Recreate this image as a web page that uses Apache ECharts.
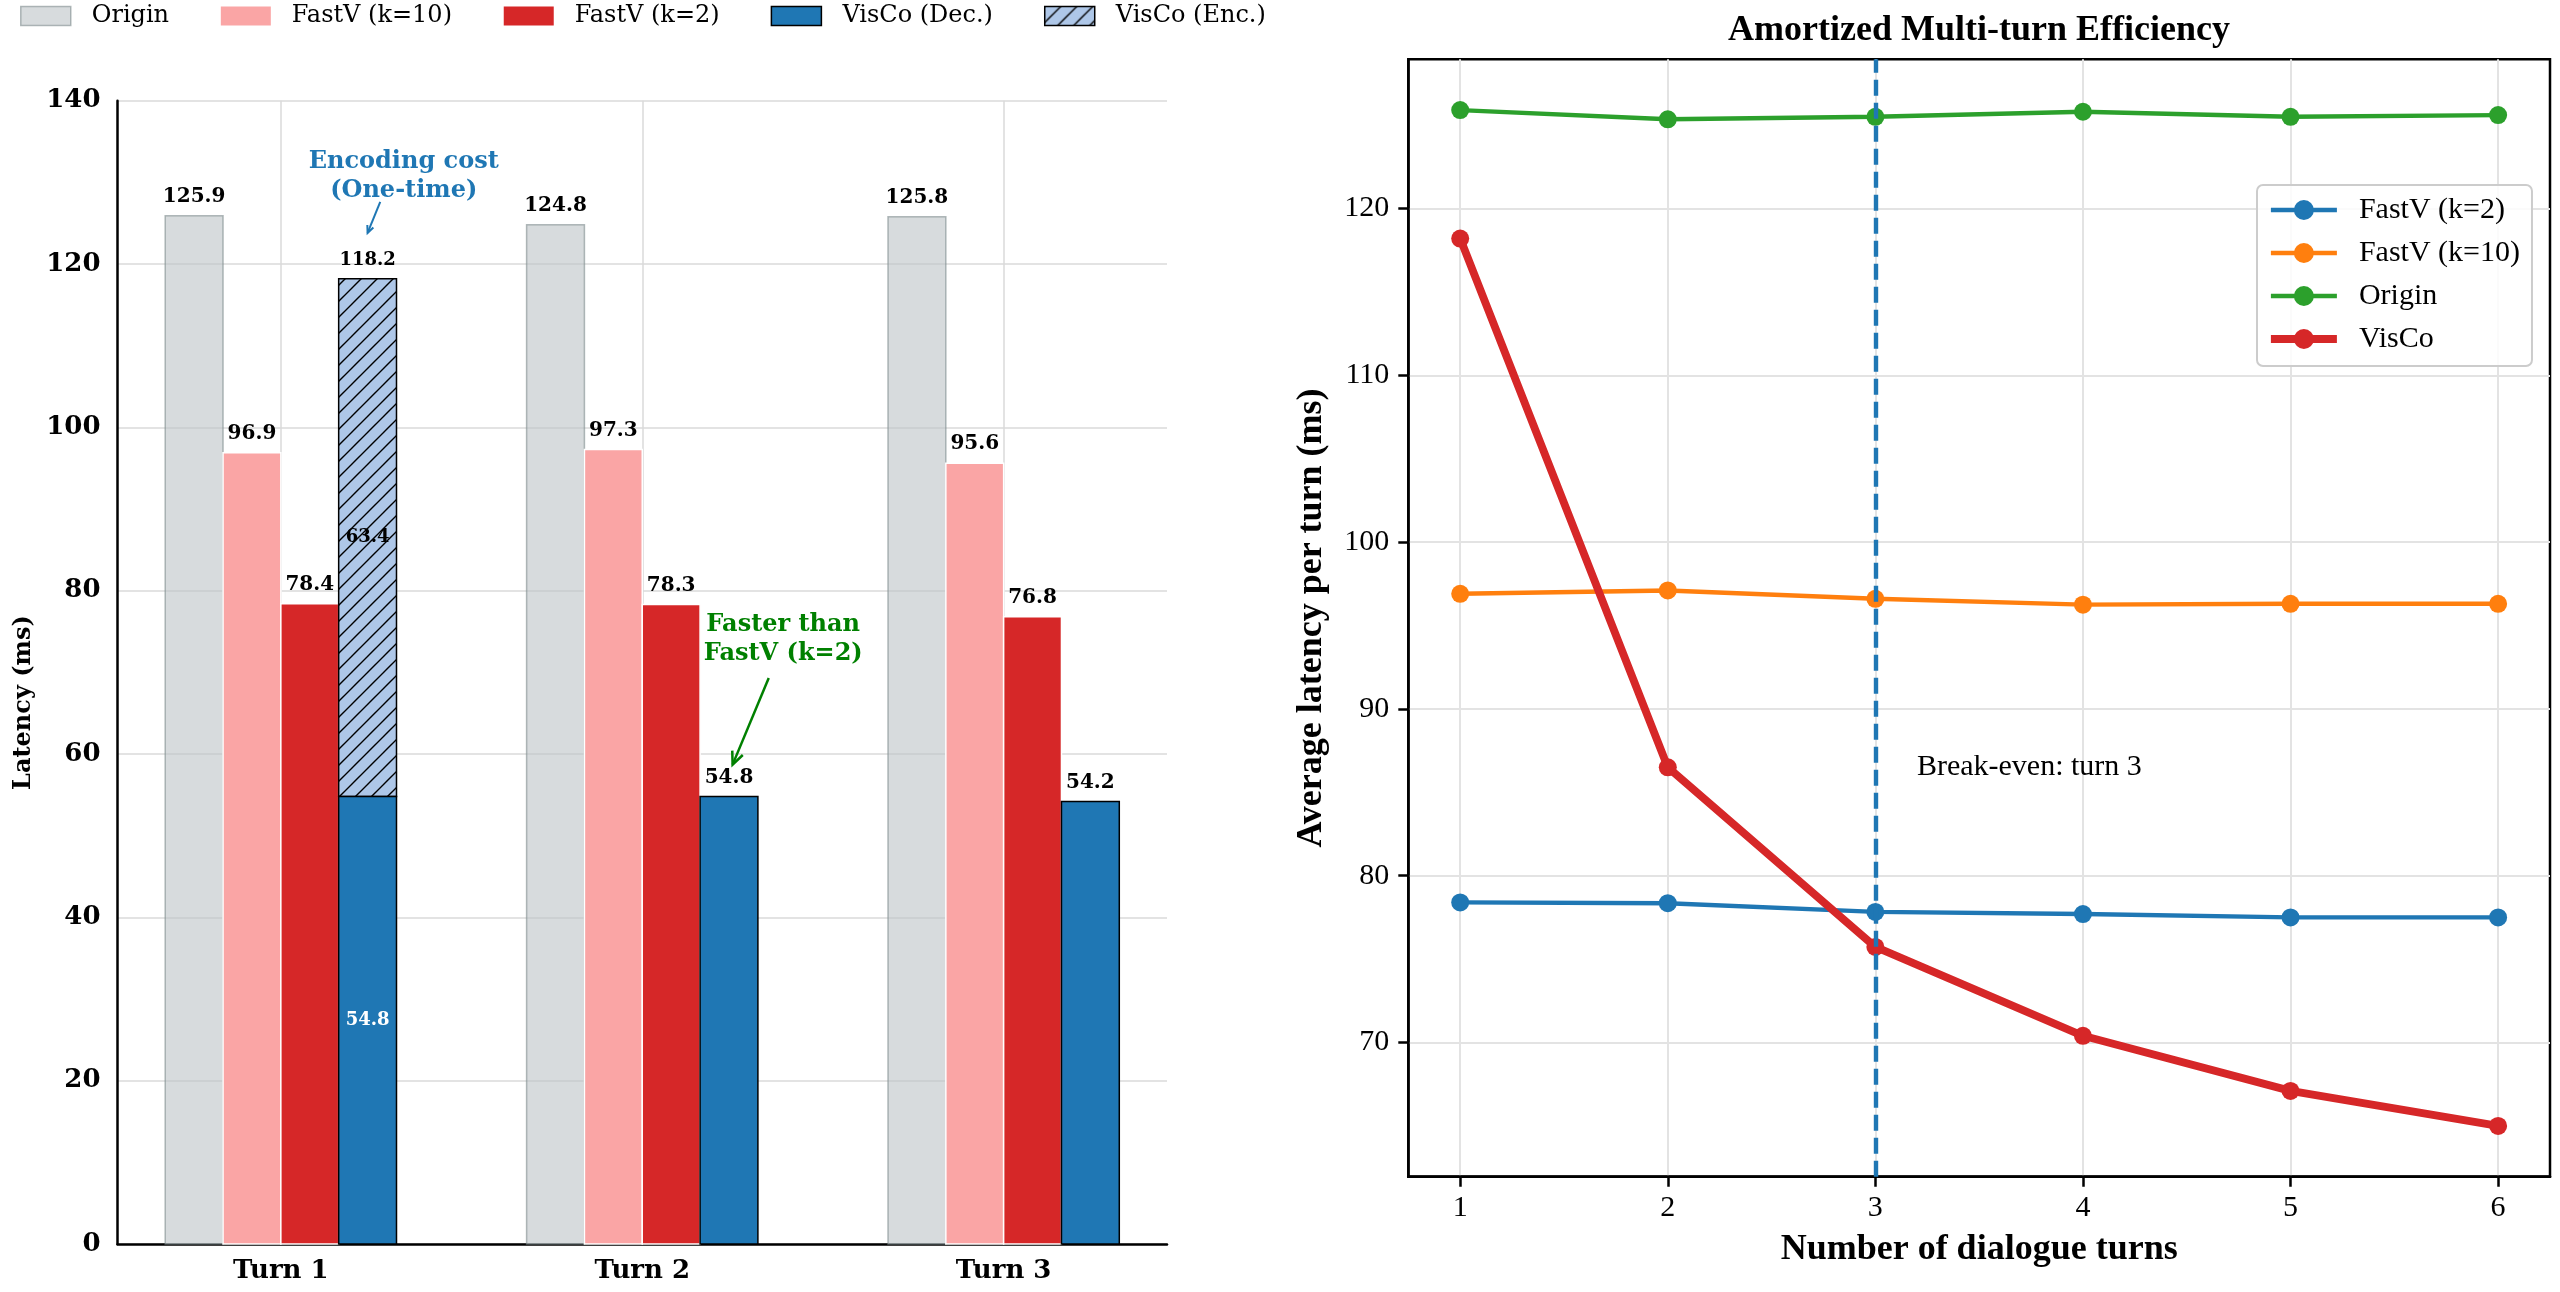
<!DOCTYPE html>
<html><head><meta charset="utf-8">
<script src="https://cdn.jsdelivr.net/npm/echarts@6/dist/echarts.min.js"></script>
<style>
html,body{margin:0;padding:0;background:#fff;width:2560px;height:1292px;overflow:hidden}
#left{position:absolute;left:0;top:0;width:1280px;height:1292px}
#right{position:absolute;left:1280px;top:0;width:1280px;height:1292px}
</style>
</head><body><div id="left"></div><div id="right"></div>
<script>
// ---------------- data ----------------
const turns = ['Turn 1', 'Turn 2', 'Turn 3'];
const originLat = [125.9, 124.8, 125.8];
const fastv10Lat = [96.9, 97.3, 95.6];
const fastv2Lat = [78.4, 78.3, 76.8];
const viscoDecLat = [54.8, 54.8, 54.2];
const viscoEncLat = [63.4, 0, 0];
const latencyTicks = [0, 20, 40, 60, 80, 100, 120, 140];

const dialogueTurns = [1, 2, 3, 4, 5, 6];
const avgFastv2 = [78.4, 78.35, 77.83, 77.7, 77.5, 77.5];
const avgFastv10 = [96.9, 97.1, 96.6, 96.25, 96.3, 96.3];
const avgOrigin = [125.9, 125.35, 125.5, 125.8, 125.5, 125.6];
const avgVisco = [118.2, 86.5, 75.73, 70.4, 67.1, 65.0];
const avgTicks = [70, 80, 90, 100, 110, 120];
const breakEvenTurn = 3;

// ---------------- helpers ----------------
const DV = "'DejaVu Serif', serif";
const TM = "'Liberation Serif', 'Times New Roman', serif";
const BAR_W = 0.16;
const NSLOT = 4;
const halfSpan = NSLOT * BAR_W / 2;
const xPad = 0.05 * (turns.length - 1 + 2 * halfSpan);
const xMinL = -halfSpan - xPad, xMaxL = turns.length - 1 + halfSpan + xPad;

function hatch() {
  const s = 16, c = document.createElement('canvas');
  c.width = s; c.height = s;
  const g = c.getContext('2d');
  g.fillStyle = '#aec7e8'; g.fillRect(0, 0, s, s);
  g.strokeStyle = '#000'; g.lineWidth = 1.4;
  g.beginPath();
  g.moveTo(-2, s + 2); g.lineTo(s + 2, -2);
  g.moveTo(-2, 2); g.lineTo(2, -2);
  g.moveTo(s - 2, s + 2); g.lineTo(s + 2, s - 2);
  g.stroke();
  return { image: c, repeat: 'repeat' };
}
const hatchFill = hatch();

const zeros = turns.map(() => 0);
const encBase = viscoDecLat.slice();
const encTop = viscoDecLat.map((d, k) => d + viscoEncLat[k]);

const styles = {
  origin: { fill: 'rgba(189,195,199,0.6)', stroke: 'rgba(127,140,141,0.6)', lw: 1.5 },
  f10: { fill: '#faa5a5', stroke: '#ffffff', lw: 1.5 },
  f2: { fill: '#d62728', stroke: '#ffffff', lw: 1.5 },
  dec: { fill: '#1f77b4', stroke: '#000000', lw: 1.5 },
  enc: { fill: hatchFill, stroke: '#000000', lw: 1.5 }
};

function fmt(v) { return (Math.round(v * 10) / 10).toFixed(1); }

function topLabel(v, size) { return { at: 'top', text: fmt(v), size: size || 20, color: '#000' }; }

function makeBar(name, slot, lo, hi, st, labelFn) {
  const data = turns.map((t, k) => [k + (slot - 1.5) * BAR_W, lo[k], hi[k], k]).filter(d => d[2] > d[1]);
  return {
    type: 'custom', name: name, data: data, encode: { x: 0, y: [1, 2] }, z: 3,
    itemStyle: { color: st.fill, borderColor: st.stroke, borderWidth: st.lw },
    renderItem: function (params, api) {
      const x = api.value(0), y0 = api.value(1), y1 = api.value(2), k = api.value(3);
      const pLo = api.coord([x, y0]), pHi = api.coord([x, y1]);
      const w = api.size([BAR_W, 0])[0];
      const children = [{
        type: 'rect',
        shape: { x: pLo[0] - w / 2, y: pHi[1], width: w, height: pLo[1] - pHi[1] },
        style: { fill: st.fill, stroke: st.stroke, lineWidth: st.lw }
      }];
      labelFn(k).forEach(l => {
        let py, va;
        if (l.at === 'top') { py = pHi[1] - 9; va = 'bottom'; }
        else { py = api.coord([x, l.at])[1]; va = 'middle'; }
        children.push({
          type: 'text', x: pLo[0], y: py, z2: 10,
          style: { text: l.text, align: 'center', verticalAlign: va, fontFamily: DV, fontWeight: 'bold', fontSize: l.size, fill: l.color }
        });
      });
      return { type: 'group', children: children };
    }
  };
}

// ---------------- left chart ----------------
const left = echarts.init(document.getElementById('left'));
const leftSeries = [
  makeBar('Origin', 0, zeros, originLat, styles.origin, k => [topLabel(originLat[k])]),
  makeBar('FastV (k=10)', 1, zeros, fastv10Lat, styles.f10, k => [topLabel(fastv10Lat[k])]),
  makeBar('FastV (k=2)', 2, zeros, fastv2Lat, styles.f2, k => [topLabel(fastv2Lat[k])]),
  makeBar('VisCo (Enc.)', 3, encBase, encTop, styles.enc, k => [
    topLabel(encTop[k], 18),
    { at: encBase[k] + viscoEncLat[k] / 2, text: fmt(viscoEncLat[k]), size: 18, color: '#000' }
  ]),
  makeBar('VisCo (Dec.)', 3, zeros, viscoDecLat, styles.dec, k => viscoEncLat[k] > 0
    ? [{ at: viscoDecLat[k] / 2, text: fmt(viscoDecLat[k]), size: 18, color: '#fff' }]
    : [topLabel(viscoDecLat[k])])
];

const legendNamesL = [
  ['Origin', styles.origin], ['FastV (k=10)', styles.f10], ['FastV (k=2)', styles.f2],
  ['VisCo (Dec.)', styles.dec], ['VisCo (Enc.)', styles.enc]
];

left.setOption({
  animation: false,
  backgroundColor: '#fff',
  grid: { left: 117.5, top: 100.7, width: 1049.5, height: 1143.3, outerBoundsMode: 'none', containLabel: false },
  legend: {
    left: 20, top: 4, padding: 0, itemWidth: 50, itemHeight: 19, itemGap: 51, selectedMode: false,
    textStyle: { fontFamily: DV, fontSize: 24, color: '#000', padding: [0, 0, 0, 16] },
    data: legendNamesL.map(([n, st]) => ({
      name: n, icon: 'rect',
      itemStyle: { color: st.fill, borderColor: n === 'FastV (k=10)' || n === 'FastV (k=2)' ? 'rgba(0,0,0,0)' : st.stroke, borderWidth: st.lw }
    }))
  },
  xAxis: {
    type: 'value', min: xMinL, max: xMaxL,
    axisLine: { show: true, onZero: false, lineStyle: { color: '#000', width: 2.5 } },
    axisTick: { show: false, customValues: turns.map((t, k) => k) },
    axisLabel: {
      customValues: turns.map((t, k) => k), formatter: v => turns[Math.round(v)],
      fontFamily: DV, fontWeight: 'bold', fontSize: 26, color: '#000', margin: 14
    },
    splitLine: { show: true, lineStyle: { color: '#dadada', width: 1.5 } }
  },
  yAxis: {
    type: 'value', min: latencyTicks[0], max: latencyTicks[latencyTicks.length - 1], interval: latencyTicks[1] - latencyTicks[0],
    axisLine: { show: true, onZero: false, lineStyle: { color: '#000', width: 2.5 } },
    axisTick: { show: false },
    axisLabel: { fontFamily: DV, fontWeight: 'bold', fontSize: 26, color: '#000', margin: 17 },
    splitLine: { show: true, lineStyle: { color: '#dadada', width: 1.5 } }
  },
  series: leftSeries
});

function arrow(p0, p1, color, lw, head) {
  const ang = Math.atan2(p1[1] - p0[1], p1[0] - p0[0]);
  const a1 = ang + Math.PI - 0.42, a2 = ang + Math.PI + 0.42;
  return [
    { type: 'line', shape: { x1: p0[0], y1: p0[1], x2: p1[0], y2: p1[1] }, style: { stroke: color, lineWidth: lw } },
    { type: 'polyline', shape: { points: [[p1[0] + head * Math.cos(a1), p1[1] + head * Math.sin(a1)], p1, [p1[0] + head * Math.cos(a2), p1[1] + head * Math.sin(a2)]] }, style: { stroke: color, lineWidth: lw, fill: null } }
  ];
}
const L = p => left.convertToPixel({ gridIndex: 0 }, p);
const visX0 = 0 + 1.5 * BAR_W, visX1 = 1 + 1.5 * BAR_W;
const encTxt = L([visX0 + 0.1, encTop[0] + 12.5]);
const fastTxt = L([visX1 + 0.15, viscoDecLat[1] + 19.2]);
const yNameAt = L([xMinL, 66.3]);
left.setOption({
  graphic: { elements: [
    { type: 'text', x: yNameAt[0] - 94, y: yNameAt[1], rotation: Math.PI / 2, style: { text: 'Latency (ms)', align: 'center', verticalAlign: 'middle', fontFamily: DV, fontWeight: 'bold', fontSize: 24, fill: '#000' } },
    { type: 'text', x: encTxt[0], y: encTxt[1], style: { text: 'Encoding cost\n(One-time)', align: 'center', verticalAlign: 'middle', lineHeight: 29, fontFamily: DV, fontWeight: 'bold', fontSize: 24, fill: '#1f77b4' } },
    ...arrow(L([visX0 + 0.035, encTop[0] + 9.4]), L([visX0, encTop[0] + 5.6]), '#1f77b4', 2, 8),
    { type: 'text', x: fastTxt[0], y: fastTxt[1], style: { text: 'Faster than\nFastV (k=2)', align: 'center', verticalAlign: 'middle', lineHeight: 29, fontFamily: DV, fontWeight: 'bold', fontSize: 24, fill: '#008000' } },
    ...arrow(L([visX1 + 0.11, viscoDecLat[1] + 14.5]), L([visX1 + 0.01, viscoDecLat[1] + 3.9]), '#008000', 2.5, 14)
  ] }
});

// ---------------- right chart ----------------
const right = echarts.init(document.getElementById('right'));
const allAvg = avgFastv2.concat(avgFastv10, avgOrigin, avgVisco);
const yLo = Math.min(...allAvg), yHi = Math.max(...allAvg), yM = 0.05 * (yHi - yLo);
const xM = 0.05 * (dialogueTurns[dialogueTurns.length - 1] - dialogueTurns[0]);

function lineSeries(name, vals, color, lw, extra) {
  return Object.assign({
    type: 'line', name: name, data: dialogueTurns.map((t, i) => [t, vals[i]]),
    symbol: 'circle', symbolSize: 18, showSymbol: true,
    lineStyle: { color: color, width: lw }, itemStyle: { color: color }
  }, extra || {});
}

right.setOption({
  animation: false,
  backgroundColor: '#fff',
  title: {
    text: 'Amortized Multi-turn Efficiency', left: 699, top: 13, textAlign: 'center', padding: 0,
    textStyle: { fontFamily: TM, fontWeight: 'bold', fontSize: 36, color: '#000' }
  },
  grid: { left: 128.3, top: 59.3, width: 1141.7, height: 1117.4, show: true, borderColor: '#000', borderWidth: 2.5, outerBoundsMode: 'none', containLabel: false },
  legend: {
    orient: 'vertical', left: 977, top: 185, itemWidth: 66, itemHeight: 25, itemGap: 13, selectedMode: false,
    padding: [10, 12, 12, 10], borderColor: '#cccccc', borderWidth: 2, borderRadius: 6, backgroundColor: 'rgba(255,255,255,0.85)',
    lineStyle: { width: 'inherit' },
    textStyle: { fontFamily: TM, fontSize: 30, color: '#000', padding: [0, 0, 0, 17] },
    data: ['FastV (k=2)', 'FastV (k=10)', 'Origin', 'VisCo']
  },
  xAxis: {
    type: 'value', min: dialogueTurns[0] - xM, max: dialogueTurns[dialogueTurns.length - 1] + xM,
    name: 'Number of dialogue turns', nameLocation: 'middle', nameGap: 55,
    nameTextStyle: { fontFamily: TM, fontWeight: 'bold', fontSize: 36, color: '#000' },
    axisLine: { show: true, onZero: false, lineStyle: { color: '#000', width: 2.5 } },
    axisTick: { show: true, customValues: dialogueTurns, length: 10, lineStyle: { color: '#000', width: 2.5 } },
    axisLabel: { customValues: dialogueTurns, fontFamily: TM, fontSize: 30, color: '#000', margin: 16 },
    splitLine: { show: true, lineStyle: { color: '#e3e3e3', width: 2 } }
  },
  yAxis: {
    type: 'value', min: yLo - yM, max: yHi + yM,
    name: 'Average latency per turn (ms)', nameLocation: 'middle', nameGap: 79,
    nameTextStyle: { fontFamily: TM, fontWeight: 'bold', fontSize: 36, color: '#000' },
    axisLine: { show: true, onZero: false, lineStyle: { color: '#000', width: 2.5 } },
    axisTick: { show: true, customValues: avgTicks, length: 10, lineStyle: { color: '#000', width: 2.5 } },
    axisLabel: { customValues: avgTicks, fontFamily: TM, fontSize: 30, color: '#000', margin: 19 },
    splitLine: { show: true, lineStyle: { color: '#e3e3e3', width: 2 } }
  },
  series: [
    lineSeries('FastV (k=2)', avgFastv2, '#1f77b4', 4.4),
    lineSeries('FastV (k=10)', avgFastv10, '#ff7f0e', 4.4),
    lineSeries('Origin', avgOrigin, '#2ca02c', 4.4),
    lineSeries('VisCo', avgVisco, '#d62728', 7.8, {
      markLine: {
        silent: true, symbol: 'none', z: 10, label: { show: false },
        lineStyle: { color: '#1f77b4', width: 4.4, type: [16, 7] },
        data: [{ xAxis: breakEvenTurn }]
      }
    })
  ]
});
const bp = right.convertToPixel({ gridIndex: 0 }, [breakEvenTurn + 0.2, avgVisco[1]]);
right.setOption({
  graphic: { elements: [
    { type: 'text', x: bp[0], y: bp[1], style: { text: 'Break-even: turn ' + breakEvenTurn, align: 'left', verticalAlign: 'middle', fontFamily: TM, fontSize: 30, fill: '#000' } }
  ] }
});
</script>
</body></html>
